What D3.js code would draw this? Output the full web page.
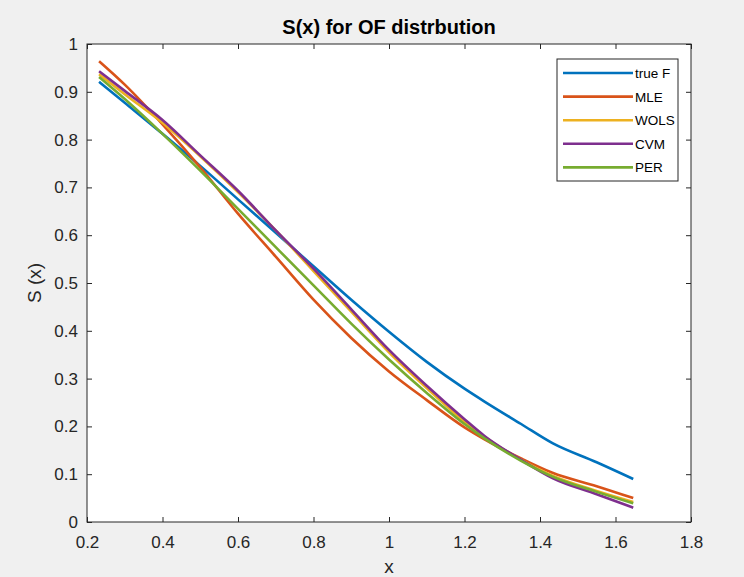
<!DOCTYPE html>
<html>
<head>
<meta charset="utf-8">
<script src="https://cdn.jsdelivr.net/npm/d3@7"></script>
<style>
  body { margin: 0; background: #f0f0f0; }
  svg { display: block; font-family: "Liberation Sans", Arial, sans-serif; }
</style>
</head>
<body>
<div id="chart"></div>
<script>
// sample points along x
const xs = [0.232, 0.3, 0.4, 0.5, 0.6, 0.7, 0.8, 0.9, 1.0, 1.1, 1.2, 1.253, 1.35, 1.433, 1.55, 1.647];

const trueF = [0.921, 0.877, 0.812, 0.745, 0.675, 0.605, 0.535, 0.465, 0.398, 0.335, 0.279, 0.252, 0.205, 0.165, 0.125, 0.090];
const mle   = [0.964, 0.915, 0.832, 0.742, 0.645, 0.555, 0.465, 0.385, 0.315, 0.255, 0.198, 0.173, 0.133, 0.103, 0.075, 0.050];
const wols  = [0.937, 0.895, 0.835, 0.765, 0.690, 0.610, 0.525, 0.440, 0.355, 0.280, 0.210, 0.178, 0.130, 0.097, 0.065, 0.042];
const cvm   = [0.943, 0.902, 0.841, 0.767, 0.693, 0.610, 0.530, 0.445, 0.360, 0.285, 0.215, 0.180, 0.130, 0.092, 0.058, 0.030];
const per   = [0.931, 0.885, 0.812, 0.735, 0.655, 0.575, 0.495, 0.415, 0.340, 0.270, 0.205, 0.175, 0.128, 0.095, 0.063, 0.039];

const seriesNames = ['true F', 'MLE', 'WOLS', 'CVM', 'PER'];
const seriesValues = [trueF, mle, wols, cvm, per];
const colors = ['#0072BD', '#D95319', '#EDB120', '#7E2F8E', '#77AC30'];

const xTicks = [0.2, 0.4, 0.6, 0.8, 1, 1.2, 1.4, 1.6, 1.8];
const yTicks = [0, 0.1, 0.2, 0.3, 0.4, 0.5, 0.6, 0.7, 0.8, 0.9, 1];

const width = 744, height = 577;
const margin = { left: 87, top: 44, right: 53, bottom: 55 };
const iw = width - margin.left - margin.right;
const ih = height - margin.top - margin.bottom;
const axisColor = '#262626';

const svg = d3.select('#chart').append('svg')
  .attr('width', width)
  .attr('height', height);

svg.append('rect')
  .attr('width', width).attr('height', height)
  .attr('fill', '#f0f0f0');

const g = svg.append('g')
  .attr('transform', `translate(${margin.left},${margin.top})`);

const x = d3.scaleLinear().domain([0.2, 1.8]).range([0, iw]);
const y = d3.scaleLinear().domain([0, 1]).range([ih, 0]);

g.append('rect')
  .attr('width', iw).attr('height', ih)
  .attr('fill', '#fff');

// axes, ticks inward on all sides
const tickLen = 5;
const bottomAxis = d3.axisBottom(x).tickValues(xTicks).tickSize(-tickLen).tickPadding(14).tickFormat(d3.format('~g'));
const leftAxis = d3.axisLeft(y).tickValues(yTicks).tickSize(-tickLen).tickPadding(9).tickFormat(d3.format('~g'));
const topAxis = d3.axisTop(x).tickValues(xTicks).tickSize(-tickLen).tickFormat('');
const rightAxis = d3.axisRight(y).tickValues(yTicks).tickSize(-tickLen).tickFormat('');

const styleAxis = sel => {
  sel.select('.domain').remove();
  sel.selectAll('line').attr('stroke', axisColor).attr('stroke-width', 1);
  sel.selectAll('text').attr('fill', axisColor).style('font-size', '17px');
};

g.append('g').attr('transform', `translate(0,${ih})`).call(bottomAxis).call(styleAxis);
g.append('g').call(leftAxis).call(styleAxis);
g.append('g').call(topAxis).call(styleAxis);
g.append('g').attr('transform', `translate(${iw},0)`).call(rightAxis).call(styleAxis);

// lines
const line = d3.line()
  .x(d => x(d[0]))
  .y(d => y(d[1]))
  .curve(d3.curveMonotoneX);

seriesValues.forEach((vals, i) => {
  g.append('path')
    .datum(xs.map((xv, j) => [xv, vals[j]]))
    .attr('fill', 'none')
    .attr('stroke', colors[i])
    .attr('stroke-width', 2.6)
    .attr('stroke-linejoin', 'round')
    .attr('d', line);
});

// box
g.append('rect')
  .attr('width', iw).attr('height', ih)
  .attr('fill', 'none')
  .attr('stroke', axisColor)
  .attr('stroke-width', 1);

// title and labels
svg.append('text')
  .attr('x', margin.left + iw / 2).attr('y', 34)
  .attr('text-anchor', 'middle')
  .attr('fill', '#000')
  .style('font-size', '20px').style('font-weight', 'bold')
  .text('S(x) for OF distrbution');

svg.append('text')
  .attr('x', margin.left + iw / 2).attr('y', 573)
  .attr('text-anchor', 'middle')
  .attr('fill', axisColor)
  .style('font-size', '19px')
  .text('x');

svg.append('text')
  .attr('transform', `translate(41,${margin.top + ih / 2}) rotate(-90)`)
  .attr('text-anchor', 'middle')
  .attr('fill', axisColor)
  .style('font-size', '19px')
  .text('S (x)');

// legend
const legend = svg.append('g').attr('transform', 'translate(557,59)');
legend.append('rect')
  .attr('width', 121).attr('height', 122)
  .attr('fill', '#fff')
  .attr('stroke', axisColor)
  .attr('stroke-width', 1);

seriesNames.forEach((name, i) => {
  const yy = 14 + i * 23.6;
  legend.append('line')
    .attr('x1', 6).attr('x2', 76)
    .attr('y1', yy).attr('y2', yy)
    .attr('stroke', colors[i])
    .attr('stroke-width', 2.6);
  legend.append('text')
    .attr('x', 78).attr('y', yy + 5)
    .attr('fill', '#000')
    .style('font-size', '13.5px')
    .text(name);
});
</script>
</body>
</html>
